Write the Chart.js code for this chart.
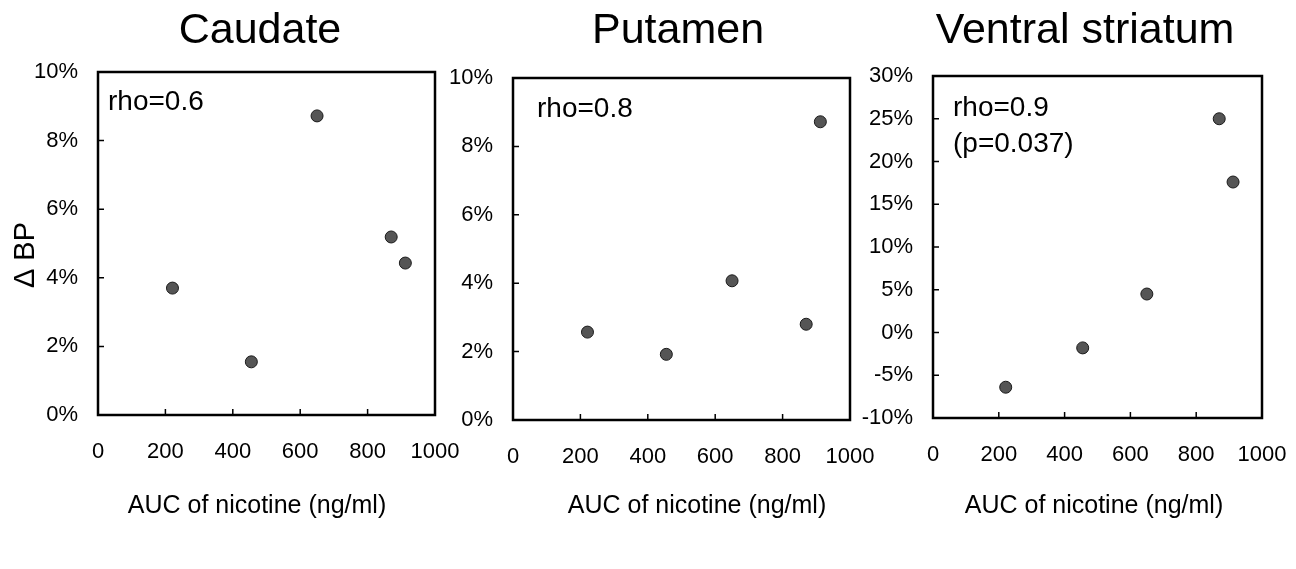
<!DOCTYPE html>
<html><head><meta charset="utf-8">
<script src="https://cdn.jsdelivr.net/npm/chart.js@4.4.0/dist/chart.umd.min.js"></script>
<style>
html,body{margin:0;padding:0;background:#fff;}
#wrap{position:relative;width:1296px;height:569px;overflow:hidden;background:#fff;}
canvas{position:absolute;left:0;top:0;}
</style></head><body>
<div id="wrap">
<canvas id="c1" width="1400" height="569"></canvas>
<canvas id="c2" width="1400" height="569"></canvas>
<canvas id="c3" width="1400" height="569"></canvas>
</div>
<script>
// ---- data ----
const auc = [221, 455, 650, 870, 912];
const caudate = [3.7, 1.55, 8.72, 5.19, 4.43];
const putamen = [2.57, 1.92, 4.07, 2.80, 8.72];
const ventral = [-6.4, -1.8, 4.5, 25.0, 17.6];
const xTicks = [0, 200, 400, 600, 800, 1000];
const yTicksSmall = [0, 2, 4, 6, 8, 10];
const yTicksLarge = [-10, -5, 0, 5, 10, 15, 20, 25, 30];
const panelTitles = ['Caudate', 'Putamen', 'Ventral striatum'];
const annotations = [['rho=0.6'], ['rho=0.8'], ['rho=0.9', '(p=0.037)']];
const xTitle = 'AUC of nicotine (ng/ml)';
const yTitle = '\u0394 BP';

// ---- layout / style ----
const FONT = "'Liberation Sans', Arial, sans-serif";
const W = 1400, H = 569;
const panels = [
  {id: 'c1', y: caudate, yt: yTicksSmall, L: 98, T: 72, R: 435, B: 415, titleX: 260, xTitleX: 257, ax: 10, ay: 38, yTitle: true},
  {id: 'c2', y: putamen, yt: yTicksSmall, L: 513, T: 78, R: 850, B: 420, titleX: 678, xTitleX: 697, ax: 24, ay: 39, yTitle: false},
  {id: 'c3', y: ventral, yt: yTicksLarge, L: 933, T: 76, R: 1262, B: 418, titleX: 1085, xTitleX: 1094, ax: 20, ay: 40, yTitle: false}
];

function makePlugin(p, idx) {
  return {
    id: 'decor' + idx,
    afterDraw(chart) {
      const ctx = chart.ctx;
      const a = chart.chartArea;
      const xs = chart.scales.x, ys = chart.scales.y;
      ctx.save();
      // box
      ctx.strokeStyle = '#000';
      ctx.lineWidth = 2.5;
      ctx.strokeRect(a.left, a.top, a.right - a.left, a.bottom - a.top);
      // inward ticks
      ctx.lineWidth = 1.5;
      ctx.beginPath();
      xs.ticks.forEach((t, i) => {
        if (i === 0 || i === xs.ticks.length - 1) return;
        const px = xs.getPixelForValue(t.value);
        ctx.moveTo(px, a.bottom);
        ctx.lineTo(px, a.bottom - 6);
      });
      ys.ticks.forEach((t, i) => {
        if (i === 0 || i === ys.ticks.length - 1) return;
        const py = ys.getPixelForValue(t.value);
        ctx.moveTo(a.left, py);
        ctx.lineTo(a.left + 6, py);
      });
      ctx.stroke();
      // title
      ctx.fillStyle = '#000';
      ctx.textAlign = 'center';
      ctx.textBaseline = 'alphabetic';
      ctx.font = '43px ' + FONT;
      ctx.fillText(panelTitles[idx], p.titleX, 43);
      // x-axis title
      ctx.font = '25px ' + FONT;
      ctx.fillText(xTitle, p.xTitleX, 513);
      // annotations
      ctx.textAlign = 'left';
      ctx.font = '28px ' + FONT;
      annotations[idx].forEach((s, k) => {
        ctx.fillText(s, a.left + p.ax, a.top + p.ay + k * 36);
      });
      // y title
      if (p.yTitle) {
        ctx.translate(26, 255);
        ctx.rotate(-Math.PI / 2);
        ctx.textAlign = 'center';
        ctx.textBaseline = 'middle';
        ctx.font = '29px ' + FONT;
        ctx.fillText(yTitle, 0, 0);
      }
      ctx.restore();
    }
  };
}

panels.forEach((p, idx) => {
  new Chart(document.getElementById(p.id), {
    type: 'scatter',
    data: {
      datasets: [{
        data: auc.map((x, i) => ({x: x, y: p.y[i]})),
        pointRadius: 6,
        pointBackgroundColor: '#555555',
        pointBorderColor: '#1a1a1a',
        pointBorderWidth: 1
      }]
    },
    options: {
      responsive: false,
      animation: false,
      events: [],
      layout: {padding: {left: 0, top: p.T, right: W - p.R, bottom: 0}},
      plugins: {legend: {display: false}, tooltip: {enabled: false}, title: {display: false}},
      scales: {
        x: {
          type: 'linear',
          min: xTicks[0], max: xTicks[xTicks.length - 1],
          afterBuildTicks(s) { s.ticks = xTicks.map(v => ({value: v})); },
          afterFit(s) { s.height = H - p.B; },
          grid: {display: false, drawTicks: false},
          border: {display: false},
          ticks: {padding: 24, color: '#000', font: {family: FONT, size: 22}, maxRotation: 0, autoSkip: false,
                  callback: v => String(v)}
        },
        y: {
          type: 'linear',
          min: p.yt[0], max: p.yt[p.yt.length - 1],
          afterBuildTicks(s) { s.ticks = p.yt.map(v => ({value: v})); },
          afterFit(s) { s.width = p.L; },
          grid: {display: false, drawTicks: false},
          border: {display: false},
          ticks: {padding: 20, color: '#000', font: {family: FONT, size: 22}, autoSkip: false,
                  callback: v => v + '%'}
        }
      }
    },
    plugins: [makePlugin(p, idx)]
  });
});
</script>
</body></html>
